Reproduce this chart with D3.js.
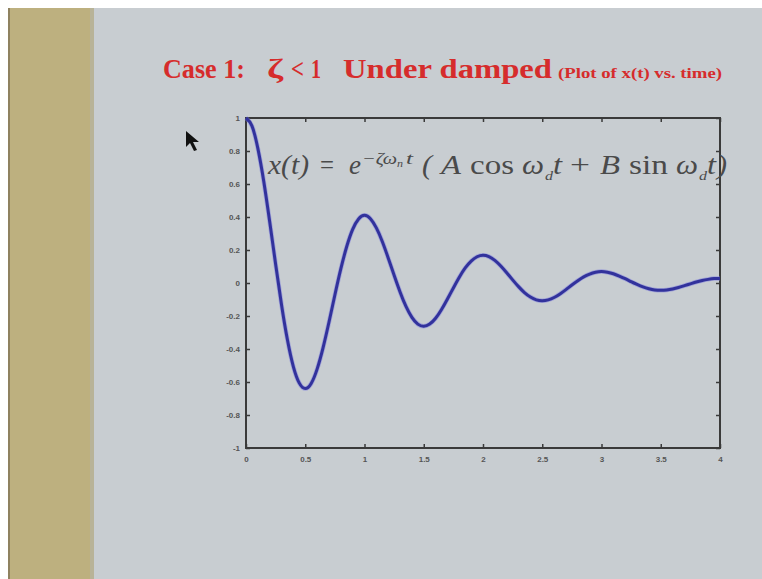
<!DOCTYPE html>
<html>
<head>
<meta charset="utf-8">
<script src="https://cdn.jsdelivr.net/npm/d3@7"></script>
<style>
  html, body { margin: 0; padding: 0; background: #ffffff; }
  svg { display: block; }
</style>
</head>
<body>
<svg id="chart" width="762" height="579"></svg>
<script>
// ---- data ----
const timeValues = [0,0.05,0.1,0.15,0.2,0.25,0.3,0.35,0.4,0.45,0.5,0.55,0.6,0.65,0.7,0.75,0.8,0.85,0.9,0.95,
  1,1.05,1.1,1.15,1.2,1.25,1.3,1.35,1.4,1.45,1.5,1.55,1.6,1.65,1.7,1.75,1.8,1.85,1.9,1.95,
  2,2.05,2.1,2.15,2.2,2.25,2.3,2.35,2.4,2.45,2.5,2.55,2.6,2.65,2.7,2.75,2.8,2.85,2.9,2.95,
  3,3.05,3.1,3.15,3.2,3.25,3.3,3.35,3.4,3.45,3.5,3.55,3.6,3.65,3.7,3.75,3.8,3.85,3.9,3.95,4];
const xValues = [1.000,0.952,0.816,0.615,0.371,0.114,-0.133,-0.346,-0.508,-0.607,
  -0.640,-0.609,-0.522,-0.393,-0.238,-0.073,0.085,0.221,0.325,0.388,
  0.410,0.390,0.334,0.252,0.152,0.047,-0.054,-0.142,-0.208,-0.249,
  -0.262,-0.249,-0.214,-0.161,-0.097,-0.030,0.035,0.091,0.133,0.159,
  0.168,0.160,0.137,0.103,0.062,0.019,-0.022,-0.058,-0.085,-0.102,
  -0.107,-0.102,-0.088,-0.066,-0.040,-0.012,0.014,0.037,0.054,0.065,
  0.069,0.065,0.056,0.042,0.026,0.008,-0.009,-0.024,-0.035,-0.042,
  -0.044,-0.042,-0.036,-0.027,-0.016,-0.005,0.006,0.015,0.022,0.027,0.028];
const xTicks = [0,0.5,1,1.5,2,2.5,3,3.5,4];
const xTickLabels = ["0","0.5","1","1.5","2","2.5","3","3.5","4"];
const yTicks = [-1,-0.8,-0.6,-0.4,-0.2,0,0.2,0.4,0.6,0.8,1];
const yTickLabels = ["-1","-0.8","-0.6","-0.4","-0.2","0","0.2","0.4","0.6","0.8","1"];

const svg = d3.select("#chart");

// slide background
svg.append("rect").attr("x",0).attr("y",0).attr("width",762).attr("height",579).attr("fill","#ffffff");
svg.append("rect").attr("x",8).attr("y",8).attr("width",754).attr("height",571).attr("fill","#c8cdd1");
svg.append("rect").attr("x",8).attr("y",8).attr("width",85).attr("height",571).attr("fill","#bdb07f");
svg.append("rect").attr("x",8).attr("y",8).attr("width",2).attr("height",571).attr("fill","#8f8260");
svg.append("rect").attr("x",90).attr("y",8).attr("width",4).attr("height",571).attr("fill","#b8b398");

// title (pieces placed to match the slide's wide spacing)
const serif = "'Liberation Serif', 'DejaVu Serif', serif";
const titleRed = "#d62c2c";
function titlePiece(txt, x, len, size){
  svg.append("text").attr("x",x).attr("y",78)
    .attr("font-family",serif).attr("font-weight","bold").attr("font-size",size+"px")
    .attr("fill",titleRed).attr("textLength",len).attr("lengthAdjust","spacingAndGlyphs")
    .text(txt);
}
titlePiece("Case 1:", 163, 82, 27);
titlePiece("ζ", 267, 16, 27);
titlePiece("<", 291, 13, 27);
titlePiece("1", 311, 10, 27);
titlePiece("Under damped", 343, 209, 27);
titlePiece("(Plot of x(t) vs. time)", 558, 164, 14);

// plot
const plotLeft = 246, plotRight = 720, plotTop = 118, plotBottom = 448;
const xScale = d3.scaleLinear().domain([0,4]).range([plotLeft,plotRight]);
const yScale = d3.scaleLinear().domain([-1,1]).range([plotBottom,plotTop]);

const axisColor = "#3a3a3a";
const g = svg.append("g");

// frame
g.append("rect").attr("x",plotLeft).attr("y",plotTop).attr("width",plotRight-plotLeft).attr("height",plotBottom-plotTop)
  .attr("fill","none").attr("stroke",axisColor).attr("stroke-width",2);

// axes with inward ticks
const xAxisB = d3.axisBottom(xScale).tickValues(xTicks).tickSize(-4).tickPadding(8)
  .tickFormat((d,i)=>xTickLabels[i]);
const xAxisT = d3.axisTop(xScale).tickValues(xTicks).tickSize(-4).tickFormat("");
const yAxisL = d3.axisLeft(yScale).tickValues(yTicks).tickSize(-4).tickPadding(6)
  .tickFormat((d,i)=>yTickLabels[i]);
const yAxisR = d3.axisRight(yScale).tickValues(yTicks).tickSize(-4).tickFormat("");

function styleAxis(sel){
  sel.select(".domain").remove();
  sel.selectAll(".tick line").attr("stroke",axisColor).attr("stroke-width",1.5);
  sel.selectAll(".tick text").attr("fill","#555").attr("font-size","8px")
    .attr("font-family","'Liberation Sans', Arial, sans-serif").attr("font-weight","bold");
}
g.append("g").attr("transform",`translate(0,${plotBottom})`).call(xAxisB).call(styleAxis);
g.append("g").attr("transform",`translate(0,${plotTop})`).call(xAxisT).call(styleAxis);
g.append("g").attr("transform",`translate(${plotLeft},0)`).call(yAxisL).call(styleAxis);
g.append("g").attr("transform",`translate(${plotRight},0)`).call(yAxisR).call(styleAxis);

// curve
const line = d3.line().x((d,i)=>xScale(timeValues[i])).y(d=>yScale(d)).curve(d3.curveNatural);
g.append("path").datum(xValues).attr("d",line).attr("fill","none")
  .attr("stroke","#7c7ce0").attr("stroke-width",4.5).attr("stroke-opacity",0.5);
g.append("path").datum(xValues).attr("d",line).attr("fill","none")
  .attr("stroke","#32329c").attr("stroke-width",3);

// equation, pieces placed (and stretched) as on the slide
const eqColor = "#4a4a4a";
const eqY = 174;
function eqPiece(txt, x, len, opts){
  opts = opts || {};
  svg.append("text").attr("x",x).attr("y",eqY + (opts.dy||0))
    .attr("font-family",serif).attr("font-size",(opts.size||27)+"px")
    .attr("font-style",opts.upright ? "normal" : "italic").attr("fill",eqColor)
    .attr("textLength",len).attr("lengthAdjust","spacingAndGlyphs").text(txt);
}
eqPiece("x(t)", 268, 41);
eqPiece("=", 320, 14, {upright:true});
eqPiece("e", 349, 12);
eqPiece("−ζω", 362, 35, {size:16, dy:-10});
eqPiece("n", 397, 6, {size:10, dy:-7});
eqPiece("t", 406, 7, {size:16, dy:-10});
eqPiece("(", 422, 10);
eqPiece("A", 441, 20);
eqPiece("cos", 470, 44, {upright:true});
eqPiece("ω", 522, 22);
eqPiece("d", 545, 8, {size:13, dy:6});
eqPiece("t", 553, 9);
eqPiece("+", 570, 20, {upright:true});
eqPiece("B", 600, 20);
eqPiece("sin", 629, 39, {upright:true});
eqPiece("ω", 676, 22);
eqPiece("d", 699, 8, {size:13, dy:6});
eqPiece("t", 707, 9);
eqPiece(")", 717, 10);

// mouse pointer seen on the slide
svg.append("path").attr("d","M186,131 L186,147 L190,143 L194,151 L197,150 L193,142 L199,142 Z")
  .attr("fill","#111");
</script>
</body>
</html>
